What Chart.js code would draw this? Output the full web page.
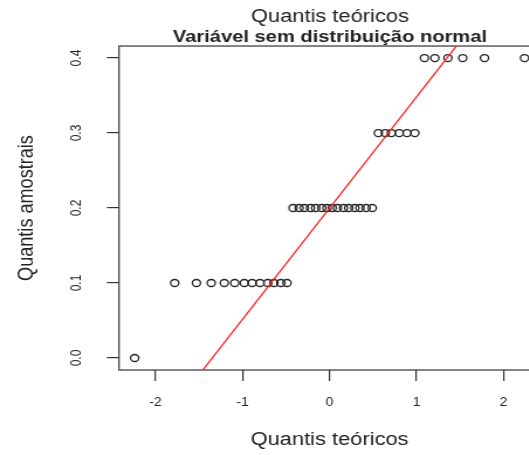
<!DOCTYPE html>
<html>
<head>
<meta charset="utf-8">
<script src="https://cdn.jsdelivr.net/npm/chart.js@4/dist/chart.umd.min.js"></script>
<style>
  html, body { margin: 0; padding: 0; background: #ffffff; }
  body { width: 529px; height: 455px; overflow: hidden; }
  #wrap { width: 564px; height: 455px; transform: scaleX(1.17); transform-origin: 0 0; }
  canvas { display: block; }
</style>
</head>
<body>
<div id="wrap"><canvas id="c" width="564" height="455"></canvas></div>
<script>
// ---- data ----
const xQuantis = [-2.24, -1.78, -1.53, -1.36, -1.21, -1.09, -0.98, -0.89, -0.80, -0.71,
                  -0.64, -0.56, -0.49, -0.42, -0.35, -0.29, -0.22, -0.16, -0.09, -0.03,
                   0.03,  0.09,  0.16,  0.22,  0.29,  0.35,  0.42,  0.49,  0.56,  0.64,
                   0.71,  0.80,  0.89,  0.98,  1.09,  1.21,  1.36,  1.53,  1.78,  2.24];
const yAmostra = [0.0,
                  0.1, 0.1, 0.1, 0.1, 0.1, 0.1, 0.1, 0.1, 0.1, 0.1, 0.1, 0.1,
                  0.2, 0.2, 0.2, 0.2, 0.2, 0.2, 0.2, 0.2, 0.2, 0.2, 0.2, 0.2, 0.2, 0.2, 0.2,
                  0.3, 0.3, 0.3, 0.3, 0.3, 0.3,
                  0.4, 0.4, 0.4, 0.4, 0.4, 0.4];
const refLineX = [-3, 3];
const refLineY = [-0.245, 0.645];
const xTickValues = [-2, -1, 0, 1, 2];
const xTickLabels = ['-2', '-1', '0', '1', '2'];
const yTickValues = [0, 0.1, 0.2, 0.3, 0.4];
const yTickLabels = ['0.0', '0.1', '0.2', '0.3', '0.4'];
const titleTop = 'Quantis teóricos';
const titleMain = 'Variável sem distribuição normal';
const xTitle = 'Quantis teóricos';
const yTitle = 'Quantis amostrais';

const FONT = "'Liberation Sans', Arial, Helvetica, sans-serif";
const INK = '#222222';

const framePlugin = {
  id: 'frame',
  beforeDatasetsDraw(chart) {
    const a = chart.chartArea, ctx = chart.ctx;
    ctx.save();
    ctx.strokeStyle = '#333333';
    ctx.lineWidth = 1.2;
    ctx.strokeRect(a.left, a.top, a.right - a.left, a.bottom - a.top);
    ctx.restore();
  }
};

new Chart(document.getElementById('c'), {
  type: 'scatter',
  data: {
    datasets: [
      {
        type: 'line',
        data: refLineX.map((x, i) => ({ x: x, y: refLineY[i] })),
        borderColor: '#ff2020',
        borderWidth: 1.3,
        pointRadius: 0,
        fill: false,
        order: 0,
        clip: 0
      },
      {
        type: 'scatter',
        data: xQuantis.map((x, i) => ({ x: x, y: yAmostra[i] })),
        pointStyle: 'circle',
        pointRadius: 3.5,
        pointBorderWidth: 1.3,
        pointBorderColor: INK,
        pointBackgroundColor: 'rgba(0,0,0,0)',
        borderColor: INK,
        backgroundColor: 'rgba(0,0,0,0)',
        order: 1,
        clip: false
      }
    ]
  },
  options: {
    responsive: false,
    animation: false,
    devicePixelRatio: 1,
    layout: { padding: 0 },
    plugins: {
      legend: { display: false },
      tooltip: { enabled: false },
      title: {
        display: true,
        text: titleTop,
        color: INK,
        font: { family: FONT, size: 18.7, weight: 'normal', lineHeight: 1.2 },
        padding: { top: 6.1, bottom: 0 }
      },
      subtitle: {
        display: true,
        text: titleMain,
        color: INK,
        font: { family: FONT, size: 17.2, weight: 'bold', lineHeight: 1.0 },
        padding: { top: 0.2, bottom: 0.1 }
      }
    },
    scales: {
      x: {
        type: 'linear',
        position: 'bottom',
        min: -2.42,
        max: 2.42,
        afterBuildTicks: (s) => { s.ticks = xTickValues.map(v => ({ value: v })); },
        afterFit: (s) => { s.height = 85; },
        border: { display: false },
        grid: { display: true, drawOnChartArea: false, drawTicks: true, tickLength: 11, color: '#333333', lineWidth: 1.2 },
        ticks: {
          color: INK,
          font: { family: FONT, size: 12, lineHeight: 1.2 },
          padding: 14.8,
          maxRotation: 0,
          minRotation: 0,
          callback: (v, i) => xTickLabels[i]
        },
        title: {
          display: true,
          text: xTitle,
          color: INK,
          font: { family: FONT, size: 18.7, lineHeight: 1.2 },
          padding: { top: 10, bottom: 3.8 }
        }
      },
      y: {
        type: 'linear',
        position: 'left',
        min: -0.016,
        max: 0.416,
        afterBuildTicks: (s) => { s.ticks = yTickValues.map(v => ({ value: v })); },
        afterFit: (s) => { s.width = 101.7; },
        border: { display: false },
        grid: { display: true, drawOnChartArea: false, drawTicks: true, tickLength: 10.3, color: '#333333', lineWidth: 1.2 },
        ticks: {
          color: INK,
          font: { family: FONT, size: 12, lineHeight: 1.2 },
          padding: 16.9,
          minRotation: 90,
          maxRotation: 90,
          crossAlign: 'center',
          callback: (v, i) => yTickLabels[i]
        },
        title: {
          display: true,
          text: yTitle,
          color: INK,
          font: { family: FONT, size: 18.1, lineHeight: 1.2 },
          padding: { top: 12.4, bottom: 10 }
        }
      },
      yRight: {
        type: 'linear',
        position: 'right',
        display: true,
        afterFit: (s) => { s.width = 102.3; },
        border: { display: false },
        grid: { display: false },
        ticks: { display: false },
        title: { display: false }
      }
    }
  },
  plugins: [framePlugin]
});
</script>
</body>
</html>
